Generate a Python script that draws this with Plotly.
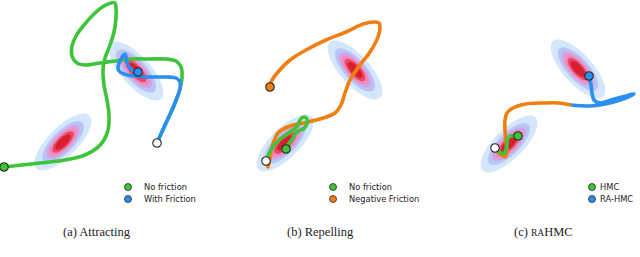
import numpy as np
import plotly.graph_objects as go

# ---- Gaussian mixture components (pixel-like plane coordinates) ----
G_CX = [63, 136, 285, 355, 509, 578]
G_CY = [142, 71, 143, 70, 144, 69]
G_ANG = [-45, 48, -45, 48, -45, 48]       # degrees, major-axis direction
G_SA = [15.3] * 6                          # sigma along major axis
G_SB = [6.0] * 6                           # sigma along minor axis
LEVELS = [0.05, 0.20, 0.35, 0.50, 0.65, 0.80]
BAND_COLORS = ["#ffffff", "#d3e6fb", "#b9c4f6", "#d6a2e4", "#f18ab6", "#ea4766", "#d81f2f"]

# ---- trajectories ----
A_GREEN_X = [157, 161, 167, 174, 179, 182, 181, 176, 166, 150, 132, 115, 100, 86, 77, 72, 72, 76, 84, 94, 104, 111, 115, 116, 116, 114, 110, 105, 103, 104, 107, 109, 108, 104, 97, 85, 65, 40, 4]
A_GREEN_Y = [143, 134, 121, 106, 92, 78, 67, 61, 59, 59, 59, 61, 63, 65, 63, 56, 46, 36, 25, 14, 6, 3, 3, 8, 18, 32, 45, 58, 70, 85, 100, 115, 130, 140, 148, 155, 160, 163, 167]
A_BLUE_X = [157, 160, 165, 171, 176, 180, 180, 176, 168, 158, 146, 134, 124, 119, 118, 120, 123, 125, 126, 127, 130, 134, 138]
A_BLUE_Y = [143, 136, 125, 112, 100, 89, 82, 78, 77, 77, 77, 76, 74, 71, 67, 61, 56, 54, 57, 63, 68, 71, 72]

B_ORANGE_X = [266, 268, 270, 272, 278, 290, 303, 320, 335, 341, 345, 350, 360, 370, 378, 380, 379, 375, 363, 346, 326, 306, 290, 278, 271, 270]
B_ORANGE_Y = [161, 167, 158, 147, 133, 126, 123, 119, 113, 105, 93, 80, 65, 52, 37, 27, 23, 22, 24, 32, 40, 50, 60, 72, 82, 87]
B_GREEN_X = [266, 268, 272, 279, 287, 294, 298, 300, 304, 307, 307, 303, 298, 295, 293, 290, 287, 286]
B_GREEN_Y = [161, 156, 148, 140, 134, 129, 125, 120, 117, 119, 124, 129, 131, 134, 138, 142, 146, 149]

C_ORANGE_X = [495, 500, 505, 507, 506, 505, 505, 507, 513, 526, 543, 559, 571]
C_ORANGE_Y = [148, 154, 157, 152, 142, 130, 120, 113, 108, 104, 103, 103, 105]
C_BLUE_X = [571, 590, 605, 620, 634, 626, 611, 600, 594, 592, 591, 589]
C_BLUE_Y = [105, 106, 104, 100, 94, 96, 100, 103, 100, 93, 85, 76]
C_GREEN_X = [495, 499, 503, 506, 507, 508, 511, 515, 518]
C_GREEN_Y = [148, 152, 154, 150, 143, 138, 136, 136, 136]

# ---- legends & captions ----
LEG_LABELS = [["No friction", "With Friction"], ["No friction", "Negative Friction"], ["HMC", "RA-HMC"]]
LEG_COLORS = [["green", "blue"], ["green", "orange"], ["green", "blue"]]
LEG_MX = [128, 333, 592]
LEG_TX = [142, 347, 598]
LEG_Y = [187, 199]
CAPTIONS = ["(a) Attracting", "(b) Repelling", "(c) <span style='font-size:9.5px'>RA</span>HMC"]
CAP_X = [97, 320, 543]
CAP_Y = 232

COL = {"green": "#3dc43b", "blue": "#2b8ef1", "orange": "#f07e10"}
EDGE = "#2a2a2a"

# ---- density grid ----
gx = np.arange(20, 640, 1.0)
gy = np.arange(30, 185, 1.0)
X, Y = np.meshgrid(gx, gy)
Z = np.zeros_like(X)
for cx, cy, ang, sa, sb in zip(G_CX, G_CY, G_ANG, G_SA, G_SB):
    t = np.deg2rad(ang)
    dx, dy = X - cx, Y - cy
    u = dx * np.cos(t) + dy * np.sin(t)
    v = -dx * np.sin(t) + dy * np.cos(t)
    Z = np.maximum(Z, np.exp(-0.5 * ((u / sa) ** 2 + (v / sb) ** 2)))

n = len(LEVELS)
cscale = [[k / n, c] for k, c in enumerate(BAND_COLORS)]

fig = go.Figure()
fig.add_trace(go.Contour(
    x=gx, y=gy, z=np.round(Z, 4), colorscale=cscale, showscale=False,
    contours=dict(start=LEVELS[0], end=LEVELS[-1], size=LEVELS[1] - LEVELS[0],
                  coloring="fill", showlines=False),
    line=dict(width=0), hoverinfo="skip"))


def line(xs, ys, color):
    fig.add_trace(go.Scatter(x=xs, y=ys, mode="lines",
                             line=dict(color=COL[color], width=3.6, shape="spline", smoothing=0.9),
                             hoverinfo="skip"))


def dot(x, y, fill):
    fig.add_trace(go.Scatter(x=[x], y=[y], mode="markers",
                             marker=dict(size=8.5, color=fill, line=dict(color=EDGE, width=1.1)),
                             hoverinfo="skip"))


# panel a
line(A_GREEN_X, A_GREEN_Y, "green")
line(A_BLUE_X, A_BLUE_Y, "blue")
dot(A_GREEN_X[-1], A_GREEN_Y[-1], COL["green"])
dot(A_BLUE_X[-1], A_BLUE_Y[-1], COL["blue"])
dot(A_GREEN_X[0], A_GREEN_Y[0], "white")
# panel b
line(B_ORANGE_X, B_ORANGE_Y, "orange")
line(B_GREEN_X, B_GREEN_Y, "green")
dot(B_ORANGE_X[-1], B_ORANGE_Y[-1], COL["orange"])
dot(B_GREEN_X[-1], B_GREEN_Y[-1], COL["green"])
dot(B_GREEN_X[0], B_GREEN_Y[0], "white")
# panel c
line(C_ORANGE_X, C_ORANGE_Y, "orange")
line(C_BLUE_X, C_BLUE_Y, "blue")
line(C_GREEN_X, C_GREEN_Y, "green")
dot(C_GREEN_X[-1], C_GREEN_Y[-1], COL["green"])
dot(C_BLUE_X[-1], C_BLUE_Y[-1], COL["blue"])
dot(C_GREEN_X[0], C_GREEN_Y[0], "white")

# legends
for p in range(3):
    for i in range(2):
        fig.add_trace(go.Scatter(x=[LEG_MX[p]], y=[LEG_Y[i]], mode="markers",
                                 marker=dict(size=7, color=COL[LEG_COLORS[p][i]],
                                             line=dict(color=EDGE, width=0.8)),
                                 hoverinfo="skip"))
        fig.add_annotation(x=LEG_TX[p], y=LEG_Y[i], text=LEG_LABELS[p][i], showarrow=False,
                           xanchor="left", yanchor="middle",
                           font=dict(family="DejaVu Sans", size=8.3, color="#222222"))
    fig.add_annotation(x=CAP_X[p], y=CAP_Y, text=CAPTIONS[p], showarrow=False,
                       xanchor="center", yanchor="middle",
                       font=dict(family="Liberation Serif", size=12.5, color="#222222"))

fig.update_layout(
    width=640, height=257, margin=dict(l=0, r=0, t=0, b=0),
    paper_bgcolor="white", plot_bgcolor="white", showlegend=False,
    xaxis=dict(range=[0, 640], visible=False, fixedrange=True),
    yaxis=dict(range=[257, 0], visible=False, fixedrange=True),
)
fig.write_html("out.html", config={"displayModeBar": False},
               post_script="document.body.style.margin='0';")
